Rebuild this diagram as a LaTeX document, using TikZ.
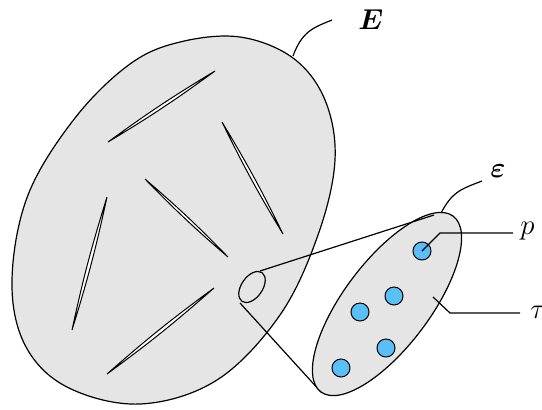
\documentclass[tikz,border=0pt]{standalone}
\usepackage{amsmath,amssymb}
\usepackage{tikz}
\usetikzlibrary{calc}
\usepackage{xcolor}
\definecolor{regiongray}{HTML}{E5E5E5}
\definecolor{pointblue}{HTML}{5BBFF7}

\begin{document}
\begin{tikzpicture}[x=0.5pt, y=-0.5pt,
  region/.style={draw, line width=0.6pt, fill=regiongray},
  slit/.style={draw, line width=0.5pt, fill=white},
  pointdot/.style={draw, line width=0.5pt, fill=pointblue},
  leader/.style={draw, line width=0.6pt},
  tag/.style={font=\Large, anchor=west, inner sep=0pt}
]
  \useasboundingbox (0,0) rectangle (542,409);

  % Big region E
  \draw[region] plot[smooth cycle, tension=0.6] coordinates {
    (180,42) (240,37) (293,58) (325,100) (335,160) (318,235) (280,315)
    (217,380) (140,404) (67,387) (25,345) (12,280) (28,195) (75,118) (130,64)};

  % Slits
  \foreach \xa/\ya/\xb/\yb in {108/142/215/71, 222/122/283/234, 145/179/228/257,
                               107/197/72/330, 214/288/107/374}
    \draw[slit] (\xa,\ya) to[bend left=2.5] (\xb,\yb) to[bend left=2.5] (\xa,\ya);

  % Small hole and zoomed region tau
  \draw[line width=0.6pt] (252,287) circle[x radius=17.5, y radius=10.5, rotate=55];
  \coordinate (holetop) at (260,271);
  \coordinate (holebot) at (240,303);
  \coordinate (tautop) at (434,215);
  \coordinate (taubot) at (321,392);
  \draw[line width=0.6pt] (holebot) -- (taubot);
  \draw[region] (387,304) circle[x radius=110, y radius=43, rotate=53];
  \draw[line width=0.6pt] (holetop) -- (tautop);

  % Points
  \foreach \px/\py [count=\i] in {422/251, 394/296, 360/312, 386/348, 341/368}
    \node[pointdot, circle, minimum size=9pt, inner sep=0pt] (pt\i) at (\px,\py) {};

  % Labels
  \node[tag] (lblE) at (358,20) {$\boldsymbol{E}$};
  \node[tag] (lbleps) at (490,171) {$\boldsymbol{\varepsilon}$};
  \node[tag] (lblp) at (520,231) {$p$};
  \node[tag] (lbltau) at (530,312) {$\tau$};

  % Leaders
  \draw[leader] (293,56) .. controls (302,32) and (312,28) .. ($(lblE.west)+(-26,0)$);
  \draw[leader] (441,213) .. controls (452,193) and (458,190) .. ($(lbleps.west)+(-8,10)$);
  \draw[leader] (pt1.center) -- (440,233) -- ($(lblp.west)+(-7,2)$);
  \draw[leader] (433,297) -- (450,313) -- ($(lbltau.west)+(-10,1)$);
\end{tikzpicture}
\end{document}
